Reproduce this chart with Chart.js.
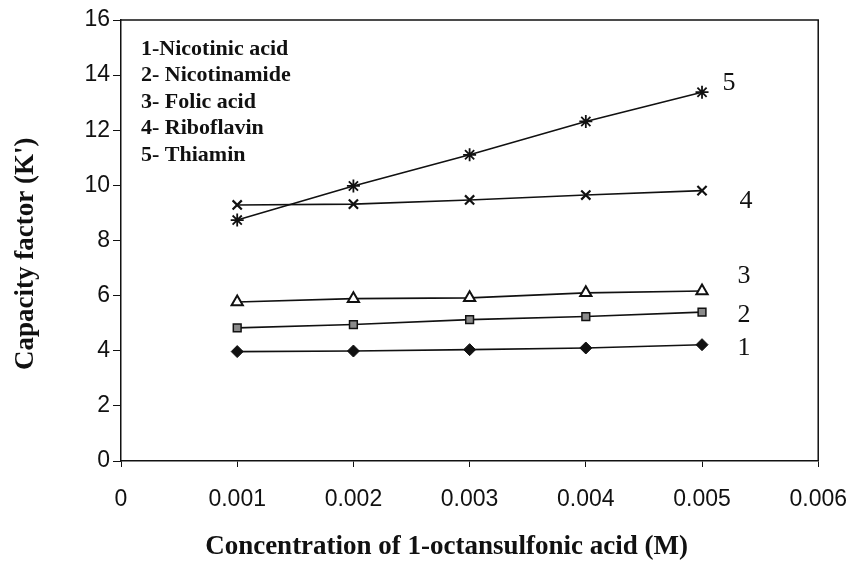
<!DOCTYPE html>
<html>
<head>
<meta charset="utf-8">
<script src="https://cdn.jsdelivr.net/npm/chart.js@4/dist/chart.umd.min.js"></script>
<style>
  html, body { margin: 0; padding: 0; background: #fff; }
  #wrap { width: 866px; height: 561px; }
</style>
</head>
<body>
<div id="wrap"><canvas id="capChart" width="866" height="561"></canvas></div>
<script>
// concentraciones (M)
const concentrations = [0.001, 0.002, 0.003, 0.004, 0.005];
const seriesNames = ["1-Nicotinic acid", "2- Nicotinamide", "3- Folic acid", "4- Riboflavin", "5- Thiamin"];
const seriesTags = ["1", "2", "3", "4", "5"];
// factor de capacidad K'
const nicotinicAcid = [3.97, 3.99, 4.04, 4.1, 4.22];
const nicotinamide = [4.83, 4.95, 5.13, 5.24, 5.4];
const folicAcid = [5.77, 5.89, 5.92, 6.1, 6.17];
const riboflavin = [9.29, 9.32, 9.47, 9.65, 9.81];
const thiamin = [8.74, 9.98, 11.11, 12.32, 13.38];
const xTickLabels = ["0", "0.001", "0.002", "0.003", "0.004", "0.005", "0.006"];
const yTickLabels = ["0", "2", "4", "6", "8", "10", "12", "14", "16"];
const xTitle = "Concentration of 1-octansulfonic acid (M)";
const yTitle = "Capacity factor (K')";

const allSeries = [nicotinicAcid, nicotinamide, folicAcid, riboflavin, thiamin];
const markers = [
    { style: "rectRot", radius: 6, fill: "#111", width: 1 },
    { style: "rect", radius: 5.5, fill: "#8a8a8a", width: 1.5 },
    { style: "triangle", radius: 6.5, fill: "#fff", width: 2 },
    { style: "crossRot", radius: 6.5, fill: "#111", width: 2.2 },
    { style: "star", radius: 6.5, fill: "#111", width: 1.8 },
];
// desplazamiento de las etiquetas 1-5 respecto al último punto
const tagOffsets = [[42, 3], [42, 3], [42, -15], [44, 11], [27, -9]];

const serif = "'Liberation Serif', 'Times New Roman', serif";
const sans = "'Liberation Sans', Arial, sans-serif";

// caja del gráfico, leyenda, títulos y etiquetas numéricas
const extrasPlugin = {
    id: "extras",
    afterDraw(chart) {
        const { ctx, chartArea: a } = chart;
        ctx.save();
        ctx.strokeStyle = "#111";
        ctx.lineWidth = 1.5;
        ctx.beginPath();
        ctx.moveTo(a.left, a.top);
        ctx.lineTo(a.right, a.top);
        ctx.lineTo(a.right, a.bottom);
        ctx.stroke();

        ctx.fillStyle = "#111";
        ctx.font = "bold 22px " + serif;
        ctx.textBaseline = "middle";
        ctx.textAlign = "left";
        seriesNames.forEach((name, i) => {
            ctx.fillText(name, a.left + 20, a.top + 29 + i * 26.5);
        });

        ctx.font = "26px " + serif;
        ctx.textAlign = "center";
        chart.data.datasets.forEach((ds, i) => {
            const pts = chart.getDatasetMeta(i).data;
            const last = pts[pts.length - 1];
            ctx.fillText(seriesTags[i], last.x + tagOffsets[i][0], last.y + tagOffsets[i][1]);
        });

        // títulos de los ejes
        ctx.font = "bold 27px " + serif;
        ctx.fillText(xTitle, a.left + (a.right - a.left) * 0.467, a.bottom + 86);
        ctx.translate(26, a.top + (a.bottom - a.top) * 0.53);
        ctx.rotate(-Math.PI / 2);
        ctx.fillText(yTitle, 0, 0);
        ctx.restore();
    },
};

document.addEventListener("DOMContentLoaded", () => {
    const ctx = document.getElementById("capChart").getContext("2d");

    new Chart(ctx, {
        type: "line",
        data: {
            datasets: allSeries.map((vals, i) => ({
                label: seriesNames[i],
                data: vals.map((v, j) => ({ x: concentrations[j], y: v })),
                borderColor: "#111",
                borderWidth: 1.6,
                pointStyle: markers[i].style,
                pointRadius: markers[i].radius,
                pointBackgroundColor: markers[i].fill,
                pointBorderColor: "#111",
                pointBorderWidth: markers[i].width,
                tension: 0,
                fill: false,
            })),
        },
        options: {
            responsive: false,
            animation: false,
            layout: { padding: { left: 0, right: 46, top: 20, bottom: 0 } },
            scales: {
                x: {
                    type: "linear",
                    min: 0,
                    max: 0.006,
                    afterFit: (s) => { s.height = 100; },
                    afterBuildTicks: (s) => {
                        s.ticks = xTickLabels.map((t, i) => ({ value: i * 0.001 }));
                    },
                    ticks: {
                        color: "#111",
                        font: { family: sans, size: 23 },
                        padding: 19,
                        maxRotation: 0,
                        callback: (v, i) => xTickLabels[i],
                    },
                    grid: { drawOnChartArea: false, color: "#111", tickLength: 6 },
                    border: { color: "#111", width: 1.5 },
                },
                y: {
                    min: 0,
                    max: 16,
                    afterFit: (s) => { s.width = 121; },
                    afterBuildTicks: (s) => {
                        s.ticks = yTickLabels.map((t, i) => ({ value: i * 2 }));
                    },
                    ticks: {
                        color: "#111",
                        font: { family: sans, size: 23 },
                        padding: 3,
                        callback: (v, i) => yTickLabels[i],
                    },
                    grid: { drawOnChartArea: false, color: "#111", tickLength: 8 },
                    border: { color: "#111", width: 1.5 },
                },
            },
            plugins: {
                legend: { display: false },
                tooltip: { enabled: false },
            },
        },
        plugins: [extrasPlugin],
    });
});
</script>
</body>
</html>
